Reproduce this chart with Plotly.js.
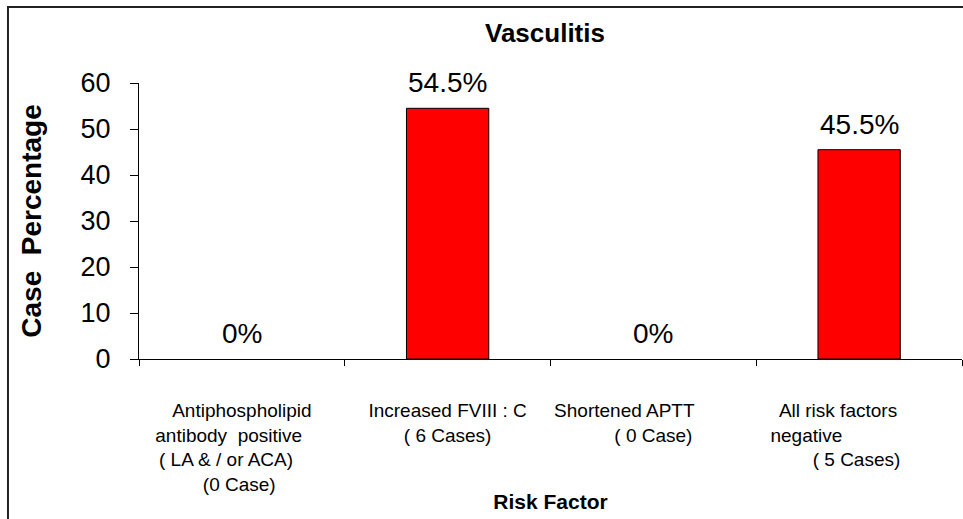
<!DOCTYPE html>
<html>
<head>
<meta charset="utf-8">
<script src="https://cdn.plot.ly/plotly-3.0.1.min.js"></script>
<style>html,body{margin:0;padding:0;background:#fff;}#chart{width:963px;height:519px;}</style>
</head>
<body>
<div id="chart"></div>
<script>
// ---- data ----
const categories = ["APL", "FVIII", "APTT", "None"];
const tickLabels = [
  "Antiphospholipid<br>antibody\u00a0\u00a0positive\u00a0\u00a0\u00a0\u00a0\u00a0<br>( LA & / or ACA)\u00a0\u00a0\u00a0\u00a0\u00a0\u00a0<br>(0 Case)\u00a0",
  "Increased FVIII : C<br>( 6 Cases)",
  "Shortened APTT\u00a0\u00a0\u00a0\u00a0\u00a0\u00a0\u00a0\u00a0\u00a0\u00a0\u00a0<br>( 0 Case)",
  "All risk factors\u00a0\u00a0\u00a0\u00a0\u00a0\u00a0\u00a0\u00a0<br>negative\u00a0\u00a0\u00a0\u00a0\u00a0\u00a0\u00a0\u00a0\u00a0\u00a0\u00a0\u00a0\u00a0\u00a0\u00a0\u00a0\u00a0\u00a0\u00a0\u00a0<br>( 5 Cases)\u00a0"
];
const casePercent = [0, 54.5, 0, 45.5];
const valueLabels = ["0%", "54.5%", "0%", "45.5%"];
const yTicks = [0, 10, 20, 30, 40, 50, 60];

const FONT = "Liberation Sans, Arial, sans-serif";

const trace = {
  type: "bar",
  x: categories,
  y: casePercent,
  marker: {
    color: "#FF0000",
    line: {color: "#000000", width: casePercent.map(v => v > 0 ? 1 : 0)}
  },
  hoverinfo: "none"
};

const annotations = categories.map((c, i) => ({
  x: c, y: casePercent[i], xref: "x", yref: "y",
  text: valueLabels[i], showarrow: false,
  xanchor: "center", yanchor: "bottom", yshift: 8,
  font: {family: FONT, size: 28, color: "#000"}
}));

const layout = {
  width: 963, height: 519,
  margin: {l: 139, r: 1, t: 83, b: 160, pad: 0},
  paper_bgcolor: "#ffffff",
  plot_bgcolor: "#ffffff",
  showlegend: false,
  bargap: 0.6,
  font: {family: FONT, color: "#000"},
  title: {
    text: "<b>Vasculitis</b>",
    font: {family: FONT, size: 26, color: "#000"},
    xref: "paper", x: 0.4933, xanchor: "center",
    yref: "container", y: 1 - 33 / 519, yanchor: "middle"
  },
  xaxis: {
    type: "category",
    tickmode: "array",
    tickvals: categories,
    ticktext: tickLabels,
    tickson: "boundaries",
    ticks: "outside", ticklen: 6, tickcolor: "#000", tickwidth: 1,
    ticklabelstandoff: 34,
    showline: true, linecolor: "#000", linewidth: 1,
    showgrid: false, zeroline: false,
    tickfont: {family: FONT, size: 19, color: "#000"},
    tickangle: 0,
    title: {text: "<b>Risk Factor</b>", font: {family: FONT, size: 21, color: "#000"}, standoff: 0}
  },
  yaxis: {
    range: [0, 60],
    tickmode: "array",
    tickvals: yTicks,
    ticktext: yTicks.map(String),
    ticks: "outside", ticklen: 8, tickcolor: "#000", tickwidth: 1,
    ticklabelstandoff: 14,
    showline: true, linecolor: "#000", linewidth: 1,
    showgrid: false, zeroline: false,
    tickfont: {family: FONT, size: 27, color: "#000"},
    title: {text: "<b>Case\u00a0\u00a0Percentage</b>", font: {family: FONT, size: 28, color: "#000"}, standoff: 30}
  },
  annotations: annotations,
  shapes: [{
    type: "rect", xref: "paper", yref: "paper",
    x0: -0.1592, x1: 1.02, y0: -0.8, y1: 1.2754,
    line: {color: "#222", width: 2}, fillcolor: "rgba(0,0,0,0)", layer: "above"
  }]
};

Plotly.newPlot("chart", [trace], layout, {displayModeBar: false, staticPlot: true});
</script>
</body>
</html>
